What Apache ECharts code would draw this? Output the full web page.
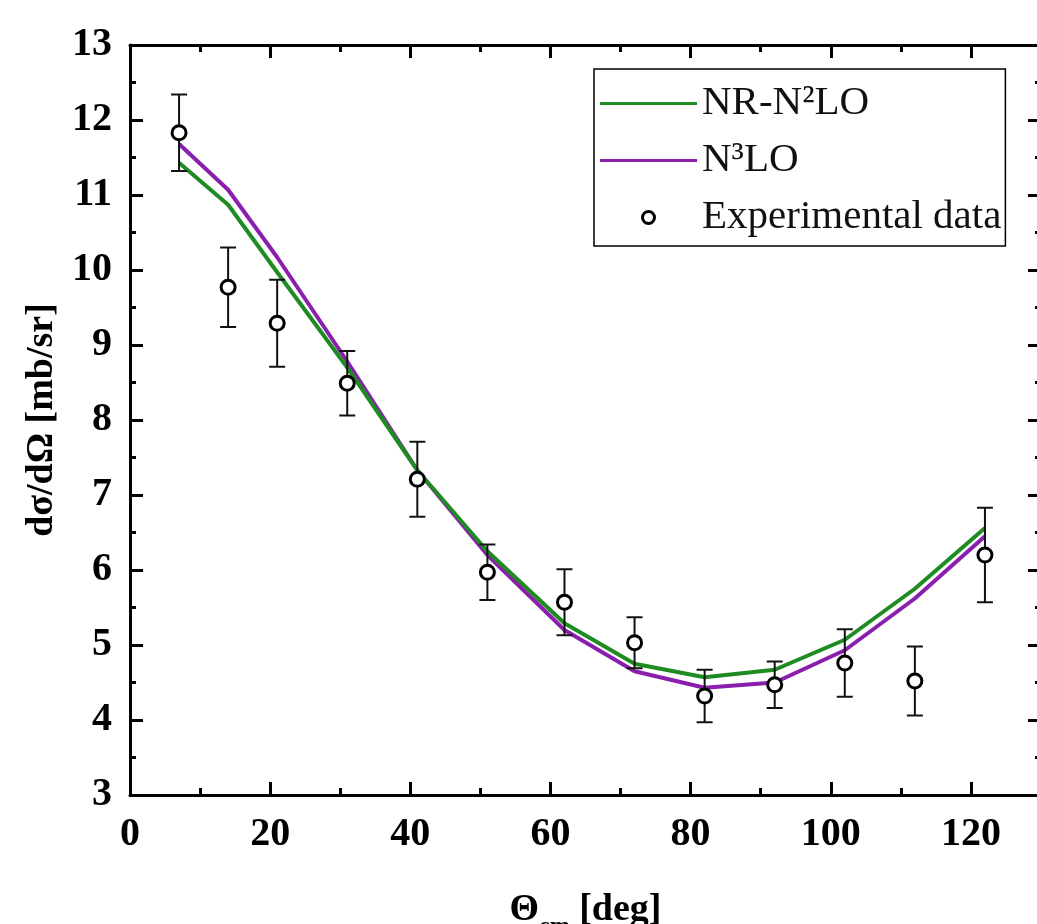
<!DOCTYPE html>
<html>
<head>
<meta charset="utf-8">
<script src="https://cdn.jsdelivr.net/npm/echarts@6/dist/echarts.min.js"></script>
<style>
  html, body { margin: 0; padding: 0; background: #fff; }
  #chart { width: 1037px; height: 924px; }
</style>
</head>
<body>
<div id="chart"></div>
<script>
// scattering angle (deg) of the measured points, also the nodes of the two calculations
const angles = [7, 14, 21, 31, 41, 51, 62, 72, 82, 92, 102, 112, 122];
const expValues = [11.83, 9.77, 9.29, 8.49, 7.21, 5.97, 5.57, 5.03, 4.32, 4.47, 4.76, 4.52, 6.20];
const expErrors = [0.51, 0.53, 0.58, 0.43, 0.50, 0.37, 0.44, 0.34, 0.35, 0.31, 0.45, 0.46, 0.63];
const n2loValues = [11.43, 10.87, 9.97, 8.70, 7.33, 6.25, 5.29, 4.75, 4.57, 4.67, 5.07, 5.75, 6.56];
const n3loValues = [11.68, 11.07, 10.17, 8.78, 7.33, 6.20, 5.20, 4.65, 4.43, 4.50, 4.93, 5.62, 6.45];

const serif = "'Liberation Serif', 'Times New Roman', serif";
const green = '#1e8c22';
const purple = '#8a1fae';
const lineIcon = 'path://M0,0H97V3H0Z';

let chart = echarts.init(document.getElementById('chart'));

let axisLine = { show: true, onZero: false, lineStyle: { color: '#000', width: 3 } };
let tickLabel = { color: '#000', fontFamily: serif, fontWeight: 'bold', fontSize: 40 };

let xBase = {
    type: 'value', min: 0, max: 130, interval: 20,
    axisLine: axisLine,
    axisTick: { inside: true, length: 13, lineStyle: { color: '#000', width: 3 } },
    minorTick: { show: true, splitNumber: 2, length: 7, lineStyle: { color: '#000', width: 3 } },
    splitLine: { show: false }
};
let yBase = {
    type: 'value', min: 3, max: 13, interval: 1,
    axisLine: axisLine,
    axisTick: { inside: true, length: 13, lineStyle: { color: '#000', width: 3 } },
    minorTick: { show: true, splitNumber: 2, length: 6, lineStyle: { color: '#000', width: 3 } },
    splitLine: { show: false }
};

let option = {
    animation: false,
    backgroundColor: '#fff',
    grid: { left: 130, top: 45, width: 911, height: 750, outerBoundsMode: 'none', containLabel: false },
    legend: {
        orient: 'vertical',
        left: 594, top: 69,
        padding: [14, 4, 8, 6],
        itemGap: 16,
        itemWidth: 97,
        itemHeight: 12,
        borderColor: '#000',
        borderWidth: 1.5,
        textStyle: { fontFamily: serif, fontSize: 41, lineHeight: 40, color: '#111' },
        data: [
            { name: 'NR-N²LO', icon: lineIcon, itemStyle: { color: green, borderWidth: 0 } },
            { name: 'N³LO', icon: lineIcon, itemStyle: { color: purple, borderWidth: 0 } },
            { name: 'Experimental data', icon: 'circle',
              itemStyle: { color: '#fff', borderColor: '#000', borderWidth: 3 } }
        ]
    },
    xAxis: [
        Object.assign({}, xBase, {
            position: 'bottom',
            axisLabel: Object.assign({ margin: 20, showMaxLabel: false }, tickLabel),
            name: '{t|Θ}{s|cm}{t| [deg]}',
            nameLocation: 'middle',
            nameGap: 104,
            nameTextStyle: {
                rich: {
                    t: { fontFamily: serif, fontWeight: 'bold', fontSize: 38, lineHeight: 40,
                         color: '#000', verticalAlign: 'bottom', padding: [0, 0, 10, 0] },
                    s: { fontFamily: serif, fontWeight: 'bold', fontSize: 24, lineHeight: 26,
                         color: '#000', verticalAlign: 'bottom' }
                }
            }
        }),
        Object.assign({}, xBase, { position: 'top', axisLabel: { show: false } })
    ],
    yAxis: [
        Object.assign({}, yBase, {
            position: 'left',
            axisLabel: Object.assign({ margin: 18 }, tickLabel),
            name: 'dσ/dΩ [mb/sr]',
            nameLocation: 'middle',
            nameGap: 64,
            nameTextStyle: { fontFamily: serif, fontWeight: 'bold', fontSize: 38, color: '#000' }
        }),
        Object.assign({}, yBase, { position: 'right', axisLabel: { show: false } })
    ],
    series: [
        {
            name: 'NR-N²LO',
            type: 'line',
            symbol: 'none',
            lineStyle: { color: green, width: 4 },
            itemStyle: { color: green },
            data: angles.map((a, i) => [a, n2loValues[i]]),
            z: 3
        },
        {
            name: 'N³LO',
            type: 'line',
            symbol: 'none',
            lineStyle: { color: purple, width: 4 },
            itemStyle: { color: purple },
            data: angles.map((a, i) => [a, n3loValues[i]]),
            z: 2
        },
        {
            name: 'errors',
            type: 'custom',
            data: angles.map((a, i) => [a, expValues[i] - expErrors[i], expValues[i] + expErrors[i]]),
            encode: { x: 0, y: [1, 2] },
            renderItem: function (params, api) {
                let lo = api.coord([api.value(0), api.value(1)]);
                let hi = api.coord([api.value(0), api.value(2)]);
                let cap = 8;
                let st = { stroke: '#111', lineWidth: 2 };
                return {
                    type: 'group',
                    children: [
                        { type: 'line', shape: { x1: lo[0], y1: lo[1], x2: hi[0], y2: hi[1] }, style: st },
                        { type: 'line', shape: { x1: lo[0] - cap, y1: lo[1], x2: lo[0] + cap, y2: lo[1] }, style: st },
                        { type: 'line', shape: { x1: hi[0] - cap, y1: hi[1], x2: hi[0] + cap, y2: hi[1] }, style: st }
                    ]
                };
            },
            z: 4
        },
        {
            name: 'Experimental data',
            type: 'scatter',
            symbol: 'circle',
            symbolSize: 14,
            itemStyle: { color: '#fff', borderColor: '#000', borderWidth: 3, opacity: 1 },
            data: angles.map((a, i) => [a, expValues[i]]),
            z: 5
        }
    ]
};
chart.setOption(option);
</script>
</body>
</html>
